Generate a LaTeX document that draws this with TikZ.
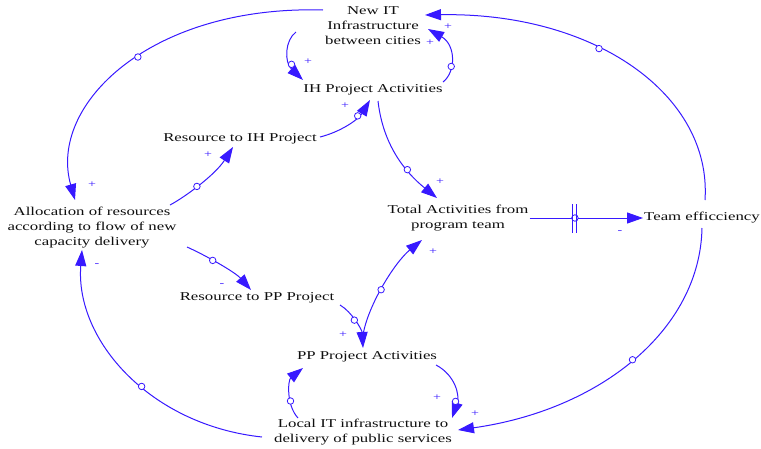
\documentclass[tikz,border=0pt]{standalone}
\usepackage{fontspec}
\setmainfont{Liberation Serif}[FakeStretch=1.4]
\usetikzlibrary{arrows.meta,calc}
\definecolor{cld}{RGB}{55,25,255}
\definecolor{txt}{RGB}{15,15,15}
\tikzset{
  var/.style={text=txt,align=center,inner sep=1pt,font=\fontsize{12}{15}\selectfont},
  arr/.style={draw=cld,line width=1pt,-{Triangle[length=16pt,width=11pt]}},
  circ/.style={circle,draw=cld,fill=white,line width=0.8pt,inner sep=0pt,minimum size=6.5pt},
  sgn/.style={text=cld,inner sep=0pt,font=\fontsize{10}{10}\selectfont}
}
\begin{document}
\begin{tikzpicture}[x=1pt,y=-1pt]
\useasboundingbox (0,0) rectangle (761,448);
% variables
\node[var] (newit) at (373,26) {New IT\\Infrastructure\\between cities};
\node[var] (ih) at (373,90) {IH Project Activities};
\node[var] (resih) at (240,139) {Resource to IH Project};
\node[var] (alloc) at (92,228) {Allocation of resources\\according to flow of new\\capacity delivery};
\node[var] (total) at (458,218) {Total Activities from\\program team};
\node[var] (team) at (702,218) {Team efficciency};
\node[var] (respp) at (257,298) {Resource to PP Project};
\node[var] (pp) at (367,357) {PP Project Activities};
\node[var] (local) at (363,432) {Local IT infrastructure to\\delivery of public services};

% connectors
\draw[arr] ([shift={(-77,6)}]newit.center) .. controls (285,40) and (284,62) .. node[circ,pos=0.72] (c1) {} ([shift={(-70,-10)}]ih.center);
\draw[arr] ([shift={(70,-8)}]ih.center) .. controls (456,72) and (456,45) .. node[circ,pos=0.35] (c2) {} ([shift={(55,3)}]newit.center);
\draw[arr] ([shift={(3,-18)}]team.center) .. controls (712,95) and (595,12) .. node[circ,pos=0.6] (c3) {} ([shift={(52,-11)}]newit.center);
\draw[arr] ([shift={(0,10)}]team.center) .. controls (700,330) and (600,410) .. node[circ,pos=0.5] (c4) {} ([shift={(95,-2)}]local.center);
\draw[arr] (total.east) -- node[circ,pos=0.4] (c5) {} (team.west);
\draw[draw=cld,line width=1pt] ([shift={(-2,-14)}]c5.center) -- ([shift={(-2,15)}]c5.center)
  ([shift={(2,-14)}]c5.center) -- ([shift={(2,15)}]c5.center);
\draw[arr] ([shift={(5,11)}]ih.center) .. controls (383,145) and (405,172) .. node[circ,pos=0.65] (c6) {} ([shift={(-21,-20)}]total.center);
\draw[arr] ([shift={(80,-2)}]resih.center) .. controls (340,132) and (358,120) .. node[circ,pos=0.7] (c7) {} ([shift={(-3,10)}]ih.center);
\draw[arr] ([shift={(78,-23)}]alloc.center) .. controls (185,197) and (215,175) .. node[circ,pos=0.45] (c8) {} ([shift={(-7,8)}]resih.center);
\draw[arr] ([shift={(-50,-16)}]newit.center) .. controls (150,5) and (48,105) .. node[circ,pos=0.45] (c9) {} ([shift={(-17,-28)}]alloc.center);
\draw[arr] ([shift={(-101,5)}]local.center) .. controls (150,425) and (75,340) .. node[circ,pos=0.43] (c10) {} ([shift={(-10,22)}]alloc.center);
\draw[arr] ([shift={(95,19)}]alloc.center) .. controls (205,255) and (235,272) .. node[circ,pos=0.4] (c11) {} ([shift={(-6,-8)}]respp.center);
\draw[arr] ([shift={(83,7)}]respp.center) .. controls (352,312) and (362,330) .. node[circ,pos=0.45] (c12) {} ([shift={(-4,-9)}]pp.center);
\draw[arr] ([shift={(-4,-22)}]pp.center) .. controls (368,305) and (395,262) .. node[circ,pos=0.45] (c13) {} ([shift={(-36,22)}]total.center);
\draw[arr] ([shift={(69,8)}]pp.center) .. controls (455,375) and (460,395) .. node[circ,pos=0.75] (c14) {} ([shift={(89,-14)}]local.center);
\draw[arr] ([shift={(-65,-14)}]local.center) .. controls (286,405) and (288,380) .. node[circ,pos=0.35] (c15) {} ([shift={(-64,11)}]pp.center);

% polarity signs
\node[sgn] (s1) at (308,62) {+};
\node[sgn] (s2) at (430,43) {+};
\node[sgn] (s3) at (448,27) {+};
\node[sgn] (s4) at (345,106) {+};
\node[sgn] (s5) at (208,155) {+};
\node[sgn] (s6) at (92,185) {+};
\node[sgn] (s7) at (440,182) {+};
\node[sgn] (s8) at (433,252) {+};
\node[sgn] (s9) at (620,232) {-};
\node[sgn] (s10) at (97,265) {-};
\node[sgn] (s11) at (222,285) {-};
\node[sgn] (s12) at (343,335) {+};
\node[sgn] (s13) at (437,398) {+};
\node[sgn] (s14) at (475,414) {+};
\end{tikzpicture}
\end{document}
